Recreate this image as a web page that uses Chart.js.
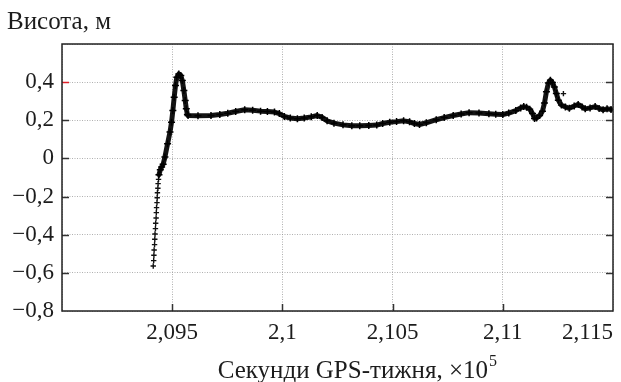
<!DOCTYPE html>
<html>
<head>
<meta charset="utf-8">
<script src="https://cdn.jsdelivr.net/npm/chart.js@4.4.1/dist/chart.umd.min.js"></script>
<style>
  html, body { margin: 0; padding: 0; background: #fff; }
  #wrap { width: 621px; height: 382px; }
</style>
</head>
<body>
<div id="wrap"><canvas id="heightChart"></canvas></div>
<script>
// Окремі точки (початок підйому та викид біля другого піку), с / м
const looseSeconds = [209414, 209416, 209417, 209418, 209420, 209421, 209422, 209424, 209425,
  209427, 209428, 209429, 209431, 209432, 209433, 209435, 209436, 209438, 211275];
const looseHeights = [-0.564, -0.536, -0.508, -0.48, -0.452, -0.424, -0.396, -0.368, -0.34,
  -0.312, -0.284, -0.258, -0.232, -0.206, -0.18, -0.156, -0.132, -0.11, 0.34];

// Основна траєкторія висоти
const trackSeconds = [209440, 209446, 209452, 209459, 209467, 209479, 209490, 209497, 209503,
  209509, 209515, 209521, 209530, 209539, 209546, 209553, 209559, 209564, 209569,
  209572, 209617, 209676, 209716, 209752, 209788, 209829, 209865, 209901, 209932,
  209964, 209986, 210009, 210036, 210068, 210099, 210131, 210158, 210180, 210203,
  210234, 210275, 210315, 210351, 210392, 210428, 210455, 210487, 210518, 210550,
  210577, 210599, 210622, 210653, 210698, 210734, 210775, 210811, 210847, 210892,
  210937, 210968, 211000, 211027, 211059, 211081, 211095, 211108, 211122, 211135,
  211144, 211153, 211167, 211180, 211189, 211198, 211207, 211216, 211225, 211234,
  211243, 211252, 211266, 211284, 211302, 211324, 211342, 211360, 211374, 211396,
  211419, 211437, 211455, 211473, 211491];
const trackHeights = [-0.085, -0.06, -0.045, -0.03, 0.007, 0.077, 0.138, 0.19, 0.251,
  0.321, 0.382, 0.426, 0.443, 0.435, 0.408, 0.356, 0.304, 0.26, 0.23,
  0.225, 0.224, 0.225, 0.23, 0.237, 0.246, 0.255, 0.253, 0.248, 0.246,
  0.243, 0.235, 0.22, 0.212, 0.208, 0.212, 0.218, 0.225, 0.215, 0.197,
  0.185, 0.176, 0.171, 0.171, 0.173, 0.175, 0.183, 0.19, 0.193, 0.197,
  0.192, 0.183, 0.178, 0.187, 0.203, 0.214, 0.225, 0.233, 0.24, 0.238,
  0.234, 0.232, 0.23, 0.238, 0.251, 0.265, 0.272, 0.268, 0.258, 0.235,
  0.21, 0.212, 0.225, 0.248, 0.29, 0.35, 0.395, 0.41, 0.398, 0.375,
  0.34, 0.305, 0.28, 0.27, 0.263, 0.275, 0.283, 0.27, 0.26, 0.265,
  0.272, 0.262, 0.255, 0.26, 0.257];

const xTickValues = [209000, 209500, 210000, 210500, 211000, 211500];
const xTickLabels = ['', '2,095', '2,1', '2,105', '2,11', '2,115'];
const yTickValues = [-0.8, -0.6, -0.4, -0.2, 0, 0.2, 0.4, 0.6];
const yTickLabels = ['\u22120,8', '\u22120,6', '\u22120,4', '\u22120,2', '0', '0,2', '0,4', ''];

const yTitle = 'Висота, м';
const xTitle = 'Секунди GPS-тижня, \u00d710';
const xTitleExp = '5';

const serif = '"Liberation Serif", "DejaVu Serif", serif';
const inkColor = '#1c1c1c';

const toPoints = (xs, ys) => xs.map((x, i) => ({ x: x, y: ys[i] }));

// рамка, внутрішні риски та підписи осей
const framePlugin = {
  id: 'frame',
  afterDraw(chart) {
    const ctx = chart.ctx;
    const a = chart.chartArea;
    const xs = chart.scales.x;
    const ys = chart.scales.y;
    const tick = 7;
    ctx.save();

    ctx.lineWidth = 1.5;
    yTickValues.slice(1, -1).forEach((v) => {
      const py = Math.round(ys.getPixelForValue(v)) + 0.5;
      ctx.strokeStyle = v === 0.4 ? '#e0202a' : '#333';
      ctx.beginPath();
      ctx.moveTo(a.left, py);
      ctx.lineTo(a.left + tick, py);
      ctx.stroke();
      ctx.strokeStyle = '#333';
      ctx.beginPath();
      ctx.moveTo(a.right - tick, py);
      ctx.lineTo(a.right, py);
      ctx.stroke();
    });
    ctx.strokeStyle = '#333';
    xTickValues.slice(1, -1).forEach((v) => {
      const px = Math.round(xs.getPixelForValue(v)) + 0.5;
      ctx.beginPath();
      ctx.moveTo(px, a.bottom);
      ctx.lineTo(px, a.bottom - tick);
      ctx.stroke();
    });

    ctx.strokeStyle = '#222';
    ctx.strokeRect(a.left, a.top, a.right - a.left, a.bottom - a.top);

    ctx.fillStyle = inkColor;
    ctx.textBaseline = 'alphabetic';
    ctx.textAlign = 'left';
    ctx.font = '25px ' + serif;
    ctx.fillText(yTitle, 7, 29);

    ctx.font = '25px ' + serif;
    const mainW = ctx.measureText(xTitle).width;
    ctx.font = '16px ' + serif;
    const expW = ctx.measureText(xTitleExp).width;
    const cx = a.left + (a.right - a.left) * 0.536;
    const x0 = cx - (mainW + expW + 1) / 2;
    ctx.font = '25px ' + serif;
    ctx.fillText(xTitle, x0, 378);
    ctx.font = '16px ' + serif;
    ctx.fillText(xTitleExp, x0 + mainW + 1, 366);
    ctx.restore();
  }
};

new Chart(document.getElementById('heightChart'), {
  type: 'scatter',
  data: {
    datasets: [
      {
        data: toPoints(trackSeconds, trackHeights),
        showLine: true,
        borderColor: 'rgba(0,0,0,0.92)',
        borderWidth: 5,
        borderJoinStyle: 'round',
        borderCapStyle: 'round',
        pointStyle: 'cross',
        pointRadius: 3.5,
        pointBorderWidth: 1.5,
        pointBorderColor: '#000',
        pointBackgroundColor: '#000'
      },
      {
        data: toPoints(looseSeconds, looseHeights),
        showLine: false,
        pointStyle: 'cross',
        pointRadius: 2.7,
        pointBorderWidth: 1.4,
        pointBorderColor: '#111',
        pointBackgroundColor: '#111'
      }
    ]
  },
  options: {
    responsive: true,
    maintainAspectRatio: false,
    devicePixelRatio: 1,
    animation: false,
    layout: { padding: { top: 44, right: 4, left: 0, bottom: 0 } },
    plugins: {
      legend: { display: false },
      tooltip: { enabled: false },
      title: { display: false }
    },
    scales: {
      x: {
        type: 'linear',
        min: 209000,
        max: 211500,
        afterFit: (s) => { s.height = 71; },
        afterBuildTicks: (s) => { s.ticks = xTickValues.map((v) => ({ value: v })); },
        grid: { color: 'rgba(150,150,150,0.75)', lineWidth: 1, drawTicks: false },
        border: { display: false, dash: [1, 1.5] },
        ticks: {
          align: 'inner',
          padding: 8,
          maxRotation: 0,
          color: inkColor,
          font: { family: serif, size: 23 },
          callback: (v, i) => xTickLabels[i]
        }
      },
      y: {
        type: 'linear',
        min: -0.8,
        max: 0.6,
        afterFit: (s) => { s.width = 62; },
        afterBuildTicks: (s) => { s.ticks = yTickValues.map((v) => ({ value: v })); },
        grid: { color: 'rgba(150,150,150,0.75)', lineWidth: 1, drawTicks: false },
        border: { display: false, dash: [1, 1.5] },
        ticks: {
          padding: 8,
          color: inkColor,
          font: { family: serif, size: 23 },
          callback: (v, i) => yTickLabels[i]
        }
      }
    }
  },
  plugins: [framePlugin]
});
</script>
</body>
</html>
